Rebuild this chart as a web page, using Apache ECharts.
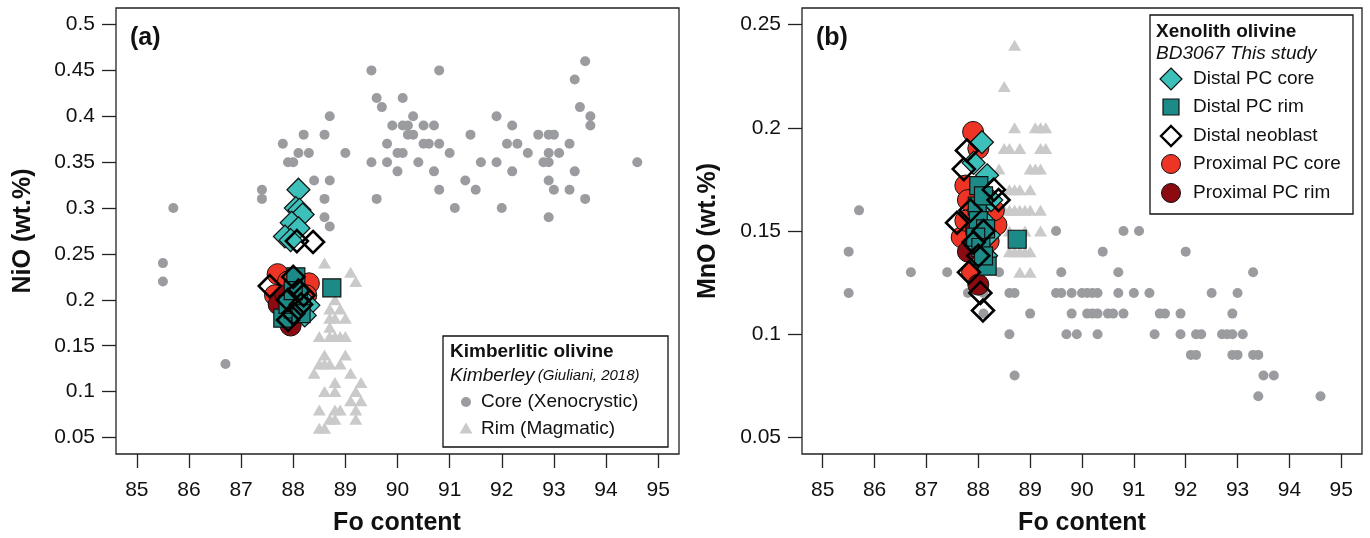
<!DOCTYPE html>
<html><head><meta charset="utf-8">
<script src="https://cdn.jsdelivr.net/npm/echarts@6/dist/echarts.min.js"></script>
<style>html,body{margin:0;padding:0;background:#fff}#c{width:1370px;height:538px}</style>
</head><body><div id="c"></div>
<script>
// ---------- tick labels ----------
const foTicks = [85, 86, 87, 88, 89, 90, 91, 92, 93, 94, 95];
const niTicks = [0.05, 0.1, 0.15, 0.2, 0.25, 0.3, 0.35, 0.4, 0.45, 0.5];
const mnTicks = [0.05, 0.1, 0.15, 0.2, 0.25];

// ---------- panel (a): Fo vs NiO ----------
const coreNi = [[85.5,0.24],[85.5,0.22],[85.7,0.30],[86.7,0.13],[87.4,0.32],[87.4,0.31],[87.8,0.37],[87.9,0.35],[88.0,0.35],[88.1,0.36],[88.3,0.36],[88.2,0.38],[88.6,0.38],[88.4,0.33],[88.7,0.33],[88.6,0.31],[88.6,0.29],[88.7,0.28],[88.7,0.40],[89.0,0.36],[89.5,0.45],[89.5,0.35],[89.6,0.42],[89.7,0.41],[89.6,0.31],[89.8,0.37],[89.8,0.35],[89.9,0.39],[90.0,0.36],[90.1,0.36],[90.0,0.34],[90.1,0.42],[90.1,0.39],[90.2,0.39],[90.2,0.38],[90.3,0.38],[90.3,0.40],[90.4,0.35],[90.5,0.39],[90.5,0.37],[90.6,0.37],[90.7,0.39],[90.7,0.34],[90.8,0.37],[90.8,0.45],[90.8,0.32],[91.0,0.36],[91.1,0.30],[91.3,0.33],[91.4,0.38],[91.5,0.32],[91.6,0.35],[91.9,0.40],[91.9,0.35],[92.0,0.30],[92.1,0.37],[92.2,0.39],[92.2,0.34],[92.3,0.37],[92.5,0.36],[92.7,0.38],[92.8,0.35],[92.9,0.38],[92.9,0.36],[92.9,0.35],[92.9,0.33],[92.9,0.29],[93.0,0.38],[93.0,0.32],[93.1,0.36],[93.3,0.37],[93.3,0.32],[93.4,0.44],[93.4,0.34],[93.5,0.41],[93.6,0.46],[93.6,0.31],[93.7,0.40],[93.7,0.39],[94.6,0.35]];
const rimNi = [[88.6,0.24],[89.1,0.23],[89.2,0.22],[88.8,0.20],[88.7,0.19],[88.9,0.19],[88.7,0.18],[88.8,0.18],[89.0,0.18],[88.7,0.17],[88.5,0.16],[88.7,0.16],[88.8,0.16],[88.9,0.16],[89.0,0.16],[88.6,0.14],[89.0,0.14],[88.5,0.13],[88.6,0.13],[88.7,0.13],[88.9,0.13],[88.4,0.12],[89.1,0.12],[88.8,0.11],[89.3,0.11],[88.6,0.10],[88.8,0.10],[89.2,0.10],[89.1,0.09],[89.3,0.09],[88.5,0.08],[88.8,0.08],[88.9,0.08],[89.2,0.08],[88.7,0.07],[88.8,0.07],[89.2,0.07],[88.5,0.06],[88.6,0.06]];
const proxCoreNi = [[87.7,0.228],[88.3,0.218],[87.9,0.22],[87.65,0.205],[88.25,0.205],[88.2,0.19]];
const proxRimNi = [[87.72,0.195],[87.95,0.172],[87.85,0.205]];
const distCoreNi = [[88.1,0.32],[88.05,0.30],[88.12,0.298],[88.18,0.293],[87.97,0.284],[88.1,0.278],[87.84,0.269],[87.95,0.265],[88.29,0.194],[88.22,0.183],[88.1,0.20]];
const distRimNi = [[88.05,0.225],[87.8,0.18],[88.0,0.19],[88.1,0.205],[87.9,0.195],[88.15,0.185],[88.0,0.21],[88.74,0.213]];
const neoNi = [[88.07,0.264],[88.38,0.263],[87.55,0.215],[88.0,0.225],[88.1,0.21],[87.9,0.20],[88.15,0.195],[88.0,0.185],[87.9,0.178],[88.2,0.205]];

// ---------- panel (b): Fo vs MnO ----------
const coreMn = [[85.7,0.16],[89.5,0.15],[90.8,0.15],[91.1,0.15],[85.5,0.14],[90.4,0.14],[92.0,0.14],[86.7,0.13],[87.4,0.13],[88.4,0.13],[89.6,0.13],[90.7,0.13],[93.3,0.13],[85.5,0.12],[87.8,0.12],[88.1,0.12],[88.6,0.12],[88.7,0.12],[89.5,0.12],[89.6,0.12],[89.8,0.12],[90.0,0.12],[90.1,0.12],[90.2,0.12],[90.3,0.12],[90.7,0.12],[91.0,0.12],[91.3,0.12],[92.5,0.12],[93.0,0.12],[88.1,0.11],[89.0,0.11],[89.8,0.11],[90.1,0.11],[90.2,0.11],[90.3,0.11],[90.5,0.11],[90.6,0.11],[90.8,0.11],[91.5,0.11],[91.6,0.11],[91.9,0.11],[92.9,0.11],[88.6,0.10],[89.7,0.10],[89.9,0.10],[90.3,0.10],[91.4,0.10],[91.9,0.10],[92.2,0.10],[92.3,0.10],[92.7,0.10],[92.8,0.10],[92.9,0.10],[93.1,0.10],[92.1,0.09],[92.2,0.09],[92.9,0.09],[93.0,0.09],[93.3,0.09],[93.4,0.09],[88.7,0.08],[93.5,0.08],[93.7,0.08],[93.4,0.07],[94.6,0.07]];
const rimMn = [[88.7,0.24],[88.5,0.22],[88.7,0.20],[89.1,0.20],[89.2,0.20],[89.3,0.20],[88.5,0.19],[88.6,0.19],[88.8,0.19],[89.2,0.19],[89.3,0.19],[88.4,0.18],[89.0,0.18],[89.1,0.18],[89.2,0.18],[88.6,0.17],[88.7,0.17],[88.8,0.17],[89.0,0.17],[88.5,0.16],[88.6,0.16],[88.7,0.16],[88.8,0.16],[88.9,0.16],[89.0,0.16],[89.2,0.16],[88.6,0.15],[88.9,0.15],[89.2,0.15],[88.6,0.14],[88.7,0.14],[88.8,0.14],[88.9,0.14],[89.0,0.14],[88.8,0.13],[89.0,0.13]];
const proxCoreMn = [[87.9,0.198],[88.0,0.19],[87.75,0.172],[87.8,0.165],[88.35,0.153],[87.68,0.147],[88.3,0.16],[87.88,0.13],[87.75,0.155],[88.2,0.145]];
const proxRimMn = [[88.0,0.124],[87.8,0.14],[87.95,0.15]];
const distCoreMn = [[88.07,0.193],[87.91,0.183],[88.17,0.177],[88.05,0.17],[88.25,0.165],[88.0,0.16],[88.1,0.155],[88.2,0.148],[87.95,0.143],[88.15,0.138],[88.05,0.135]];
const distRimMn = [[88.01,0.172],[87.98,0.162],[88.1,0.167],[88.0,0.155],[88.14,0.151],[87.95,0.147],[88.05,0.142],[88.17,0.133],[88.1,0.138],[88.75,0.146]];
const neoMn = [[87.78,0.189],[87.72,0.18],[88.39,0.165],[88.3,0.17],[87.59,0.154],[87.91,0.1445],[88.1,0.15],[87.82,0.13],[88.04,0.12],[88.09,0.1115],[88.0,0.138],[87.85,0.16]];

// ---------- styles ----------
const FONT = "'Liberation Sans', Arial, sans-serif";
const C = {core:'#9b9c9f', rim:'#cacaca', dc:'#3dbfba', dr:'#1c8a86', pc:'#ee3525', pr:'#8c0b10'};
const G = [{left:116, top:8, width:563, height:446},{left:802, top:8, width:560, height:446}];

function xAx(i){return {type:'value', gridIndex:i, min:84.6, max:95.4,
  axisLine:{show:false}, splitLine:{show:false},
  axisTick:{show:true, inside:false, length:14, customValues:foTicks, lineStyle:{color:'#222', width:1.3}},
  axisLabel:{customValues:foTicks, margin:26, fontSize:21, fontFamily:FONT, color:'#111'}};}
function yAx(i, ticks, mn, mx){return {type:'value', gridIndex:i, min:mn, max:mx,
  axisLine:{show:false}, splitLine:{show:false},
  axisTick:{show:true, inside:false, length:14, customValues:ticks, lineStyle:{color:'#222', width:1.3}},
  axisLabel:{customValues:ticks, margin:21, fontSize:21, fontFamily:FONT, color:'#111', formatter:v=>String(+v.toFixed(2))}};}

function sc(i, data, sym, size, color, border, bw){
  return {type:'scatter', xAxisIndex:i, yAxisIndex:i, data:data, symbol:sym, symbolSize:size,
    itemStyle:{color:color, borderColor:border||null, borderWidth:bw||0, opacity:1}, silent:true, animation:false};
}
function panelSeries(i, core, rim, pc, pr, dc, dr, neo){
  return [
    sc(i, core, 'circle', 10, C.core),
    sc(i, rim, 'triangle', [13,11], C.rim),
    sc(i, pc, 'circle', 21, C.pc, '#111', 1),
    sc(i, pr, 'circle', 21, C.pr, '#111', 1),
    sc(i, dc, 'diamond', 23, C.dc, '#111', 1.2),
    sc(i, dr, 'rect', 18, C.dr, '#111', 1.2),
    sc(i, neo, 'diamond', 22, 'rgba(255,255,255,0)', '#000', 2.6)
  ];
}

// legend helpers
function txt(x, y, text, font, extra){return Object.assign({type:'text', style:{x:x, y:y, text:text, font:font, fill:'#111', textVerticalAlign:'middle', textAlign:'left'}}, extra||{});}
function diamond(cx, cy, r, fill, stroke, lw){return {type:'polygon', shape:{points:[[cx,cy-r],[cx+r,cy],[cx,cy+r],[cx-r,cy]]}, style:{fill:fill, stroke:stroke, lineWidth:lw}};}
function tri(cx, cy, w, h, fill){return {type:'polygon', shape:{points:[[cx,cy-h*0.6],[cx+w/2,cy+h*0.4],[cx-w/2,cy+h*0.4]]}, style:{fill:fill}};}

const graphics = [
  txt(130, 38, '(a)', 'bold 25px '+FONT),
  txt(816, 38, '(b)', 'bold 25px '+FONT),
  {type:'text', x:23, y:231, rotation:Math.PI/2, style:{text:'NiO (wt.%)', font:'bold 25px '+FONT, fill:'#111', textAlign:'center', textVerticalAlign:'middle'}},
  {type:'text', x:708, y:231, rotation:Math.PI/2, style:{text:'MnO (wt.%)', font:'bold 25px '+FONT, fill:'#111', textAlign:'center', textVerticalAlign:'middle'}},
  {type:'text', style:{x:397, y:523, text:'Fo content', font:'bold 25px '+FONT, fill:'#111', textAlign:'center', textVerticalAlign:'middle'}},
  {type:'text', style:{x:1082, y:523, text:'Fo content', font:'bold 25px '+FONT, fill:'#111', textAlign:'center', textVerticalAlign:'middle'}},
  // legend (a)
  {type:'rect', shape:{x:443, y:336, width:225, height:111}, style:{fill:'#fff', stroke:'#111', lineWidth:1.3}, z:10},
  txt(450, 352, 'Kimberlitic olivine', 'bold 19px '+FONT, {z:11}),
  {type:'text', z:11, style:{x:450, y:376, text:'{a|Kimberley} {b|(Giuliani, 2018)}', textVerticalAlign:'middle', fill:'#111',
     rich:{a:{font:'italic 19px '+FONT, fill:'#111'}, b:{font:'italic 15px '+FONT, fill:'#111'}}}},
  Object.assign({type:'circle', shape:{cx:466, cy:402, r:5}, style:{fill:C.core}}, {z:11}),
  txt(481, 402, 'Core (Xenocrystic)', '19px '+FONT, {z:11}),
  Object.assign(tri(466, 429, 13, 11, C.rim), {z:11}),
  txt(481, 429, 'Rim (Magmatic)', '19px '+FONT, {z:11}),
  // legend (b)
  {type:'rect', shape:{x:1150, y:15, width:203, height:199}, style:{fill:'#fff', stroke:'#111', lineWidth:1.3}, z:10},
  txt(1156, 32, 'Xenolith olivine', 'bold 19px '+FONT, {z:11}),
  txt(1156, 54, 'BD3067 This study', 'italic 19px '+FONT, {z:11}),
  Object.assign(diamond(1171, 79, 11, C.dc, '#111', 1.2), {z:11}),
  txt(1193, 79, 'Distal PC core', '19px '+FONT, {z:11}),
  Object.assign({type:'rect', shape:{x:1163, y:99, width:16, height:16}, style:{fill:C.dr, stroke:'#111', lineWidth:1.2}}, {z:11}),
  txt(1193, 107, 'Distal PC rim', '19px '+FONT, {z:11}),
  Object.assign(diamond(1171, 136, 10, '#fff', '#000', 2.4), {z:11}),
  txt(1193, 136, 'Distal neoblast', '19px '+FONT, {z:11}),
  Object.assign({type:'circle', shape:{cx:1171, cy:164, r:9.5}, style:{fill:C.pc, stroke:'#111', lineWidth:1}}, {z:11}),
  txt(1193, 164, 'Proximal PC core', '19px '+FONT, {z:11}),
  Object.assign({type:'circle', shape:{cx:1171, cy:193, r:9.5}, style:{fill:C.pr, stroke:'#111', lineWidth:1}}, {z:11}),
  txt(1193, 193, 'Proximal PC rim', '19px '+FONT, {z:11})
];

const chart = echarts.init(document.getElementById('c'), null, {renderer:'canvas'});
chart.setOption({
  animation:false,
  backgroundColor:'#fff',
  grid: G.map(g=>Object.assign({show:true, borderColor:'#222', borderWidth:1.3, backgroundColor:'transparent', containLabel:false}, g)),
  xAxis:[xAx(0), xAx(1)],
  yAxis:[yAx(0, niTicks, 0.032, 0.518), yAx(1, mnTicks, 0.042, 0.258)],
  series: [].concat(
    panelSeries(0, coreNi, rimNi, proxCoreNi, proxRimNi, distCoreNi, distRimNi, neoNi),
    panelSeries(1, coreMn, rimMn, proxCoreMn, proxRimMn, distCoreMn, distRimMn, neoMn)),
  graphic: graphics
});
</script></body></html>
